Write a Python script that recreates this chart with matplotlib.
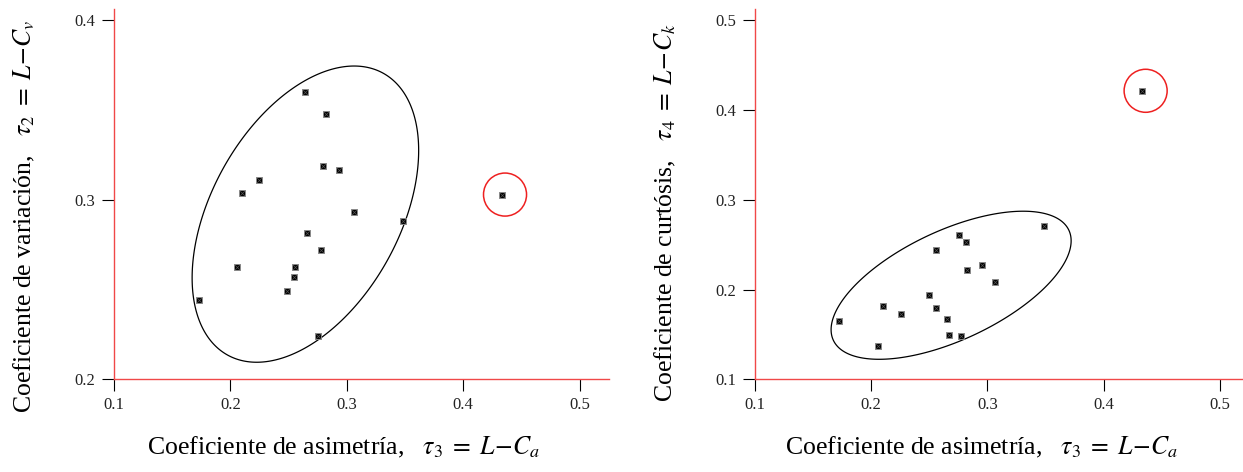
import numpy as np
import matplotlib
matplotlib.use("Agg")
import matplotlib.pyplot as plt

# ---- data ----
tau3_left = [0.173, 0.2055, 0.210, 0.2246, 0.249, 0.255, 0.2556, 0.2645, 0.2659,
             0.275, 0.2775, 0.280, 0.282, 0.293, 0.306, 0.3485]
tau2 = [0.2440, 0.2628, 0.3038, 0.3109, 0.2490, 0.2570, 0.2624, 0.3600, 0.2813,
        0.2243, 0.2719, 0.3188, 0.3476, 0.3164, 0.2930, 0.2882]
tau3_right = [0.1729, 0.2058, 0.2103, 0.2257, 0.2497, 0.2558, 0.2562, 0.2651, 0.2668,
              0.2760, 0.2777, 0.2815, 0.2829, 0.2952, 0.3068, 0.3483]
tau4 = [0.1646, 0.1375, 0.1821, 0.1728, 0.1943, 0.1795, 0.2441, 0.1672, 0.1494,
        0.2604, 0.1483, 0.2530, 0.2222, 0.2274, 0.2085, 0.2712]
outlier_tau3 = 0.433
outlier_tau2 = 0.3029
outlier_tau4 = 0.4215

x_ticks = [0.1, 0.2, 0.3, 0.4, 0.5]
y_ticks_left = [0.2, 0.3, 0.4]
y_ticks_right = [0.1, 0.2, 0.3, 0.4, 0.5]

# ellipse enclosing the cluster: centre, half-extents, phase
ell_left = dict(cx=0.2645, cy=0.292, rx=0.0973, ry=0.0825, cosphi=0.43)
ell_right = dict(cx=0.2689, cy=0.2048, rx=0.1031, ry=0.0825, cosphi=0.60)

xlabel = r"Coeficiente de asimetría,   $\tau_3\;=\;L\!-\!C_a$"
ylabel_left = r"Coeficiente de variación,   $\tau_2\;=\;L\!-\!C_v$"
ylabel_right = r"Coeficiente de curtósis,   $\tau_4\;=\;L\!-\!C_k$"

plt.rcParams['font.family'] = ['Liberation Serif', 'DejaVu Serif']
plt.rcParams['mathtext.fontset'] = 'stix'

fig = plt.figure(figsize=(12.43, 4.72), dpi=100)
W, H = 1243, 472
axL = fig.add_axes([113.9 / W, (H - 379.3) / H, 495.2 / W, 370 / H])
axR = fig.add_axes([754.5 / W, (H - 379.3) / H, 495.2 / W, 370 / H])

red = '#f04848'


def ellipse_pts(p):
    t = np.linspace(0, 2 * np.pi, 600, endpoint=False)
    phi = np.arccos(p['cosphi'])
    return p['cx'] + p['rx'] * np.cos(t), p['cy'] + p['ry'] * np.cos(t - phi)


def style(ax, yticks, ylim):
    ax.set_xlim(0.1, 0.5254)
    ax.set_ylim(*ylim)
    ax.set_xticks(x_ticks)
    ax.set_xticklabels([f"{v:.1f}" for v in x_ticks])
    ax.set_yticks(yticks)
    ax.set_yticklabels([f"{v:.1f}" for v in yticks])
    for s in ('top', 'right'):
        ax.spines[s].set_visible(False)
    for s in ('left', 'bottom'):
        ax.spines[s].set_color(red)
        ax.spines[s].set_linewidth(1.0)
    ax.tick_params(direction='out', length=8.5, width=0.8, color='black',
                   labelsize=12, labelcolor='#222222')
    ax.tick_params(axis='y', pad=5)
    ax.tick_params(axis='x', pad=4)


def draw_points(ax, xs, ys):
    ax.scatter(xs, ys, marker='s', s=14, facecolor='black', edgecolor='#8a8a8a',
               linewidths=0.7, zorder=3)
    ax.scatter(xs, ys, marker='x', s=11, color='#555555', linewidths=0.5, zorder=4)


for ax, tx, ty, oy, ell, yt, yl, ylab, ycoord, xcoord in [
        (axL, tau3_left, tau2, outlier_tau2, ell_left, y_ticks_left, (0.2, 0.4061),
         ylabel_left, (-0.18, 0.44), (0.463, -0.183)),
        (axR, tau3_right, tau4, outlier_tau4, ell_right, y_ticks_right, (0.1, 0.5123),
         ylabel_right, (-0.179, 0.45), (0.4576, -0.183))]:
    ex, ey = ellipse_pts(ell)
    ax.fill(ex, ey, fill=False, edgecolor='black', lw=0.9)
    draw_points(ax, tx, ty)
    draw_points(ax, [outlier_tau3], [oy])
    ax.scatter([outlier_tau3 + 0.003], [oy], marker='o', s=960, facecolor='none',
               edgecolor='#ee2020', linewidths=1.1, zorder=2)
    style(ax, yt, yl)
    ax.set_xlabel(xlabel, fontsize=18.5)
    ax.xaxis.set_label_coords(*xcoord)
    ax.xaxis.label.set_va('center')
    ax.set_ylabel(ylab, fontsize=18.5)
    ax.yaxis.set_label_coords(*ycoord)
    ax.yaxis.label.set_va('center')

fig.savefig('out.png', dpi=100)
